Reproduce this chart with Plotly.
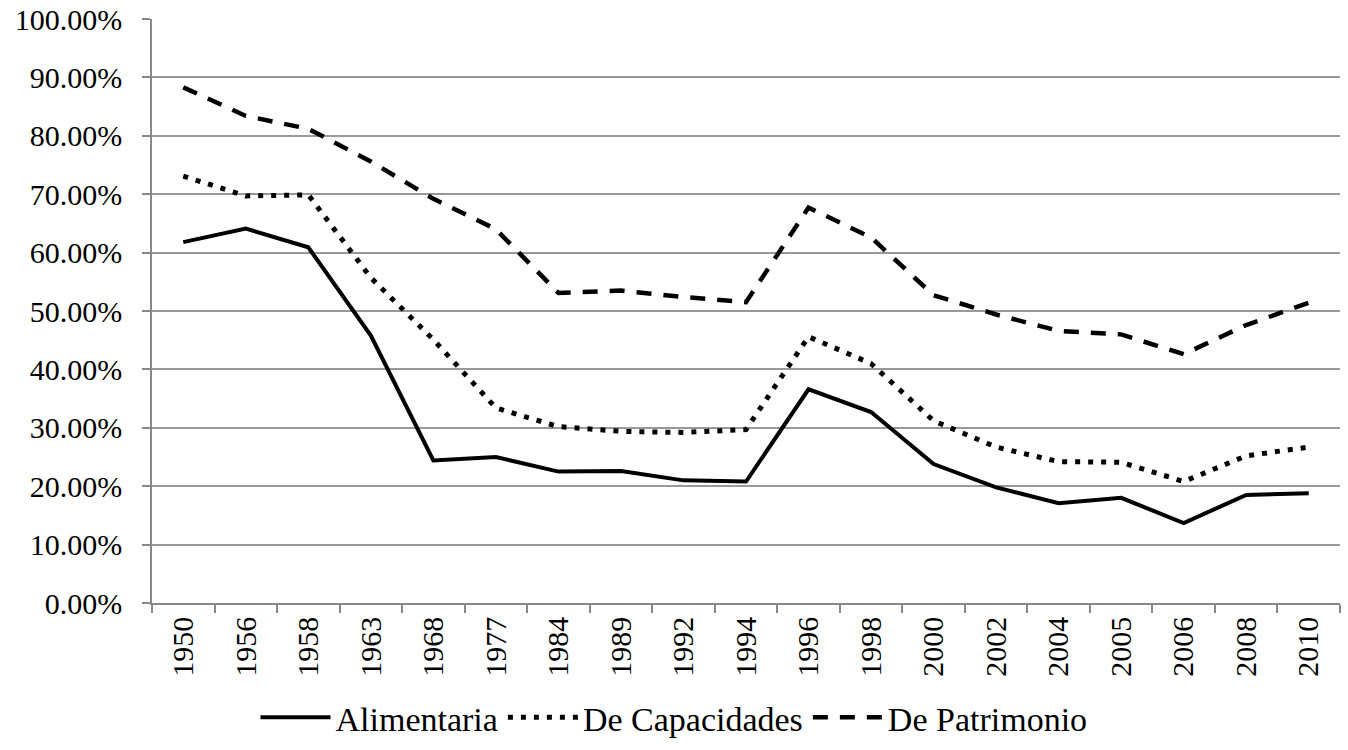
import plotly.graph_objects as go

years = ["1950", "1956", "1958", "1963", "1968", "1977", "1984", "1989", "1992", "1994",
         "1996", "1998", "2000", "2002", "2004", "2005", "2006", "2008", "2010"]

alimentaria = [61.8, 64.1, 60.9, 45.8, 24.4, 25.0, 22.5, 22.6, 21.0, 20.8,
               36.6, 32.7, 23.8, 19.8, 17.1, 18.0, 13.7, 18.5, 18.8]
capacidades = [73.1, 69.7, 69.9, 55.7, 45.1, 33.4, 30.2, 29.4, 29.2, 29.7,
               45.6, 41.0, 31.2, 26.7, 24.2, 24.1, 20.8, 25.2, 26.7]
patrimonio = [88.3, 83.4, 81.2, 75.6, 69.2, 64.0, 53.1, 53.5, 52.4, 51.5,
              67.7, 62.6, 52.7, 49.4, 46.6, 46.0, 42.6, 47.6, 51.4]

series = [
    ("Alimentaria", alimentaria, dict(color="black", width=4, dash="solid")),
    ("De Capacidades", capacidades, dict(color="black", width=5, dash="5px,8px")),
    ("De Patrimonio", patrimonio, dict(color="black", width=4.5, dash="15px,12px")),
]

FONT = "Liberation Serif, Times New Roman, serif"

fig = go.Figure()
for name, vals, line in series:
    fig.add_trace(go.Scatter(x=years, y=vals, name=name, mode="lines", line=line))

fig.update_layout(
    width=1348, height=750,
    margin=dict(l=152, r=8, t=19, b=147, autoexpand=False),
    paper_bgcolor="white", plot_bgcolor="white",
    font=dict(family=FONT, size=30, color="black"),
    showlegend=True,
    legend=dict(orientation="h", xref="container", yref="container",
                x=0.5, xanchor="center", y=0.043, yanchor="middle",
                font=dict(family=FONT, size=34, color="black"),
                itemwidth=70, tracegroupgap=0),
)
fig.update_xaxes(
    type="category", range=[-0.5, 18.5], automargin=False,
    showline=True, linecolor="#888888", linewidth=1.5,
    ticks="outside", tickson="boundaries", ticklen=8, tickcolor="#888888", tickwidth=1.5,
    tickangle=-90, showgrid=False,
    tickfont=dict(family=FONT, size=30, color="black"),
)
fig.update_yaxes(
    range=[0, 100], dtick=10, tick0=0, automargin=False,
    tickformat=".2f", ticksuffix="%",
    showline=True, linecolor="#888888", linewidth=1.5,
    ticks="outside", ticklen=8, tickcolor="#888888", tickwidth=1.5,
    ticklabelstandoff=14,
    showgrid=True, gridcolor="#999999", gridwidth=1.5,
    zeroline=False,
    tickfont=dict(family=FONT, size=30, color="black"),
)

fig.write_html("out.html", config={"displayModeBar": False})

with open("out.html", "r", encoding="utf-8") as f:
    html = f.read()
html = html.replace("<body>", '<body style="margin:0;overflow:hidden">', 1)
with open("out.html", "w", encoding="utf-8") as f:
    f.write(html)
